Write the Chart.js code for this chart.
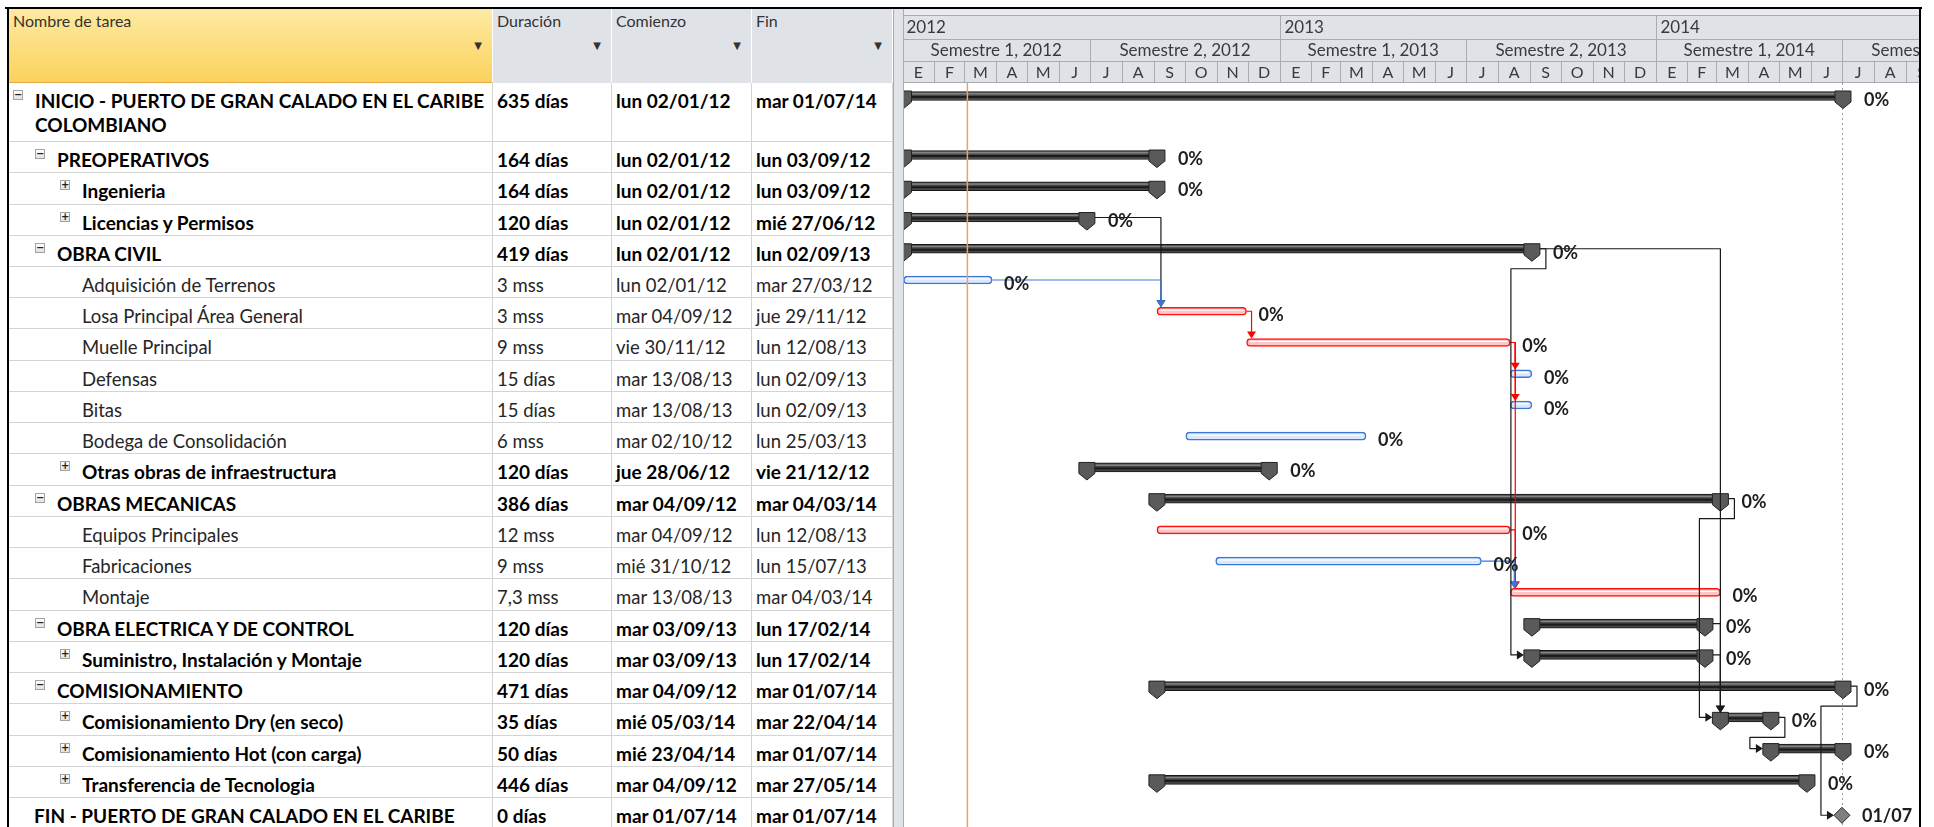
<!DOCTYPE html>
<html lang="es">
<head>
<meta charset="UTF-8" />
<title>Cronograma - Puerto de gran calado en el Caribe colombiano</title>
<script src="https://cdn.jsdelivr.net/npm/chart.js"></script>
<style>
  body { margin: 0; width: 1934px; height: 827px; overflow: hidden; background: #fff; position: relative; font-family: Lato, sans-serif; }
  .borde { position: absolute; background: #000; z-index: 5; }
  .cab { position: absolute; top: 9px; height: 74px; box-sizing: border-box; padding: 2px 4px; font-size: 16px; color: #333; border-right: 1px solid #fff; background: #dfe3e8; }
  .cab .flecha { position: absolute; right: 10px; top: 31px; font-size: 10px; font-family: "DejaVu Sans", sans-serif; color: #333; }
  .fila { position: absolute; left: 9px; width: 884px; box-sizing: border-box; border-bottom: 1px solid #d4d4d4; }
  .celda { position: absolute; top: 0; bottom: 0; box-sizing: border-box; border-right: 1px solid #d4d4d4; padding: 6px 2px 0 4px; line-height: 24px; font-size: 18.5px; color: #262626; overflow: hidden; }
  .negrita { font-weight: bold; color: #000; font-size: 19px; }
  .simbolo { position: absolute; top: 7px; width: 10px; height: 10px; box-sizing: border-box; border: 1px solid #a3a3a3; background: linear-gradient(#fff, #e2e2e2); font: bold 10px/8px "DejaVu Sans", sans-serif; text-align: center; color: #222; }
  #separador { position: absolute; left: 893px; top: 9px; width: 11px; height: 830px; box-sizing: border-box; background: #e0e3e8; border-left: 1px solid #a9adb3; border-right: 1px solid #a9adb3; }
  #gantt { position: absolute; left: 904px; top: 0; }
</style>
</head>
<body>
  <div class="borde" style="left:5px;top:7px;width:1917px;height:2px"></div>
  <div class="borde" style="left:7px;top:7px;width:2px;height:830px"></div>
  <div class="borde" style="left:1919px;top:7px;width:2px;height:830px"></div>

  <div class="cab" style="left:9px;width:484px;background:linear-gradient(#feeaa3,#fbd25c);border-bottom:1px solid #e3a94b">Nombre de tarea<span class="flecha">▼</span></div>
  <div class="cab" style="left:493px;width:119px">Duración<span class="flecha">▼</span></div>
  <div class="cab" style="left:612px;width:140px">Comienzo<span class="flecha">▼</span></div>
  <div class="cab" style="left:752px;width:141px">Fin<span class="flecha">▼</span></div>

  <div id="filas"></div>
  <div id="separador"></div>
  <canvas id="gantt" width="1015" height="827"></canvas>

<script>
  // ---- datos del cronograma ----
  const tareas = [
    "INICIO - PUERTO DE GRAN CALADO EN EL CARIBE COLOMBIANO",
    "PREOPERATIVOS",
    "Ingenieria",
    "Licencias y Permisos",
    "OBRA CIVIL",
    "Adquisición de Terrenos",
    "Losa Principal Área General",
    "Muelle Principal",
    "Defensas",
    "Bitas",
    "Bodega de Consolidación",
    "Otras obras de infraestructura",
    "OBRAS MECANICAS",
    "Equipos Principales",
    "Fabricaciones",
    "Montaje",
    "OBRA ELECTRICA Y DE CONTROL",
    "Suministro, Instalación y Montaje",
    "COMISIONAMIENTO",
    "Comisionamiento Dry (en seco)",
    "Comisionamiento Hot (con carga)",
    "Transferencia de Tecnologia",
    "FIN - PUERTO DE GRAN CALADO EN EL CARIBE COLOMBIANO"
  ];
  const duraciones = ["635 días", "164 días", "164 días", "120 días", "419 días", "3 mss", "3 mss", "9 mss",
    "15 días", "15 días", "6 mss", "120 días", "386 días", "12 mss", "9 mss", "7,3 mss", "120 días",
    "120 días", "471 días", "35 días", "50 días", "446 días", "0 días"];
  const comienzos = ["lun 02/01/12", "lun 02/01/12", "lun 02/01/12", "lun 02/01/12", "lun 02/01/12",
    "lun 02/01/12", "mar 04/09/12", "vie 30/11/12", "mar 13/08/13", "mar 13/08/13", "mar 02/10/12",
    "jue 28/06/12", "mar 04/09/12", "mar 04/09/12", "mié 31/10/12", "mar 13/08/13", "mar 03/09/13",
    "mar 03/09/13", "mar 04/09/12", "mié 05/03/14", "mié 23/04/14", "mar 04/09/12", "mar 01/07/14"];
  const fines = ["mar 01/07/14", "lun 03/09/12", "lun 03/09/12", "mié 27/06/12", "lun 02/09/13",
    "mar 27/03/12", "jue 29/11/12", "lun 12/08/13", "lun 02/09/13", "lun 02/09/13", "lun 25/03/13",
    "vie 21/12/12", "mar 04/03/14", "lun 12/08/13", "lun 15/07/13", "mar 04/03/14", "lun 17/02/14",
    "lun 17/02/14", "mar 01/07/14", "mar 22/04/14", "mar 01/07/14", "mar 27/05/14", "mar 01/07/14"];
  const tipos = ["resumen", "resumen", "resumen", "resumen", "resumen", "tarea", "critica", "critica",
    "tarea", "tarea", "tarea", "resumen", "resumen", "critica", "tarea", "critica", "resumen",
    "resumen", "resumen", "resumen", "resumen", "resumen", "hito"];
  const niveles = [0, 1, 2, 2, 1, 2, 2, 2, 2, 2, 2, 2, 1, 2, 2, 2, 1, 2, 1, 2, 2, 2, 0];
  const simbolos = ["-", "-", "+", "+", "-", "", "", "", "", "", "", "+", "-", "", "", "", "-", "+", "-", "+", "+", "+", ""];
  const etiquetas = ["0%", "0%", "0%", "0%", "0%", "0%", "0%", "0%", "0%", "0%", "0%", "0%", "0%",
    "0%", "0%", "0%", "0%", "0%", "0%", "0%", "0%", "0%", "01/07"];
  // predecesora -> sucesora (fin a comienzo)
  const vinculos = [[3, 6], [5, 6], [6, 7], [7, 8], [7, 9], [7, 15], [13, 15], [14, 15],
    [4, 17], [4, 19], [12, 19], [16, 19], [17, 19], [19, 20], [18, 22]];
  const anios = ["2012", "2013", "2014", "2015"];
  const semestres = ["Semestre 1, 2012", "Semestre 2, 2012", "Semestre 1, 2013", "Semestre 2, 2013",
    "Semestre 1, 2014", "Semestre 2, 2014"];
  const meses = ["E", "F", "M", "A", "M", "J", "J", "A", "S", "O", "N", "D"];
  const fechaActual = "dom 04/03/12";

  // ---- medidas de la vista ----
  const ALTO = 31.24;        // alto de una fila
  const PRIMERA = 1.89;      // la primera fila ocupa dos lineas
  const Y0 = 83;             // fin del encabezado
  const EJE_MIN = 1.46, EJE_MAX = 986.8;   // dias desde 01/01/2012
  const GROSOR = 8, GROSOR_RESUMEN = 9;

  const ORIGEN = Date.UTC(2012, 0, 1);
  function dia(texto) {
    const [d, m, a] = texto.split(" ").pop().split("/").map(Number);
    return (Date.UTC(2000 + a, m - 1, d) - ORIGEN) / 86400000;
  }
  function diaDe(a, m) { return (Date.UTC(a, m, 1) - ORIGEN) / 86400000; }
  function inicioFila(i) { return i === 0 ? 0 : PRIMERA + (i - 1); }

  // ---- tabla izquierda ----
  const sangria = [26, 48, 73];
  const contenedor = document.getElementById("filas");
  tareas.forEach((t, i) => {
    const fila = document.createElement("div");
    fila.className = "fila";
    fila.style.top = (Y0 + inicioFila(i) * ALTO) + "px";
    fila.style.height = ((i === 0 || i === tareas.length - 1 ? PRIMERA : 1) * ALTO) + "px";
    const neg = (tipos[i] === "resumen" || tipos[i] === "hito") ? " negrita" : "";
    const pad = i === tareas.length - 1 ? 25 : sangria[niveles[i]];
    let simb = "";
    if (simbolos[i]) simb = `<span class="simbolo" style="left:${pad - 22}px">${simbolos[i] === "-" ? "−" : "+"}</span>`;
    fila.innerHTML = `
      <div class="celda${neg}" style="left:0;width:484px;padding-left:${pad}px">${simb}${t}</div>
      <div class="celda${neg}" style="left:484px;width:119px">${duraciones[i]}</div>
      <div class="celda${neg}" style="left:603px;width:140px">${comienzos[i]}</div>
      <div class="celda${neg}" style="left:743px;width:141px">${fines[i]}</div>`;
    contenedor.appendChild(fila);
  });

  // ---- conjuntos para Chart.js ----
  const conjuntos = { resumen: [], critica: [], tarea: [], hito: [] };
  const ubicacion = [];
  tareas.forEach((t, i) => {
    const lista = conjuntos[tipos[i]];
    if (tipos[i] === "hito") lista.push({ x: dia(comienzos[i]), y: inicioFila(i) + 0.55 });
    else lista.push({ x: [dia(comienzos[i]), dia(fines[i]) + 1], y: inicioFila(i) + 0.416 });
    ubicacion.push({ ds: ["resumen", "critica", "tarea", "hito"].indexOf(tipos[i]), idx: lista.length - 1 });
  });

  function geometria(chart, i) {
    const el = chart.getDatasetMeta(ubicacion[i].ds).data[ubicacion[i].idx];
    if (tipos[i] === "hito") return { left: el.x, right: el.x, y: el.y, top: el.y - 8, hito: true };
    const resumen = tipos[i] === "resumen";
    const g = resumen ? GROSOR_RESUMEN : GROSOR;
    return {
      left: Math.min(el.x, el.base), right: Math.max(el.x, el.base), y: el.y,
      top: el.y - g / 2, bottom: el.y + g / 2, resumen: resumen
    };
  }

  const colorVinculo = { resumen: "#1a1a1a", critica: "#ff0000", tarea: "#3a78d8" };

  function flecha(ctx, x, y, dir) {
    ctx.beginPath();
    if (dir === "abajo") { ctx.moveTo(x - 4.5, y - 7); ctx.lineTo(x + 4.5, y - 7); ctx.lineTo(x, y); }
    else { ctx.moveTo(x - 7, y - 4.5); ctx.lineTo(x - 7, y + 4.5); ctx.lineTo(x, y); }
    ctx.closePath();
    ctx.fill();
  }

  function capuchon(ctx, x, top, bottom) {
    ctx.beginPath();
    ctx.moveTo(x - 8, top - 0.5);
    ctx.lineTo(x + 8, top - 0.5);
    ctx.lineTo(x + 8, bottom + 1.5);
    ctx.lineTo(x, bottom + 8);
    ctx.lineTo(x - 8, bottom + 1.5);
    ctx.closePath();
    ctx.fillStyle = "#5a5a5a";
    ctx.fill();
    ctx.strokeStyle = "#222";
    ctx.lineWidth = 1;
    ctx.stroke();
  }

  const dibujoGantt = {
    id: "dibujoGantt",
    beforeDatasetsDraw(chart) {
      const ctx = chart.ctx, xs = chart.scales.x;
      const L = chart.chartArea.left, R = chart.chartArea.right;
      ctx.save();
      // encabezado de escala temporal
      ctx.fillStyle = "#e8eaee"; ctx.fillRect(L, 9, R - L, 6);
      ctx.fillStyle = "#dfe2e7"; ctx.fillRect(L, 15, R - L, 68);
      ctx.strokeStyle = "#a9adb3"; ctx.lineWidth = 1;
      [15.5, 39.5, 61.5, 82.5].forEach(y => { ctx.beginPath(); ctx.moveTo(L, y); ctx.lineTo(R, y); ctx.stroke(); });
      ctx.fillStyle = "#3a3a3a"; ctx.textBaseline = "middle";
      ctx.font = "17px Lato";
      anios.forEach(a => {
        const x0 = Math.round(xs.getPixelForValue(diaDe(+a, 0))) + 0.5;
        ctx.beginPath(); ctx.moveTo(x0, 15); ctx.lineTo(x0, 39); ctx.stroke();
        ctx.textAlign = "left"; ctx.fillText(a, x0 + 4, 28);
      });
      semestres.forEach((s, k) => {
        const a = 2012 + Math.floor(k / 2), m = (k % 2) * 6;
        const x0 = Math.round(xs.getPixelForValue(diaDe(a, m))) + 0.5;
        const x1 = xs.getPixelForValue(diaDe(a, m + 6));
        ctx.beginPath(); ctx.moveTo(x0, 39); ctx.lineTo(x0, 61); ctx.stroke();
        ctx.textAlign = "center"; ctx.fillText(s, (x0 + x1) / 2, 51);
      });
      ctx.font = "16px Lato";
      for (let k = 0; k < 36; k++) {
        const a = 2012 + Math.floor(k / 12), m = k % 12;
        const x0 = Math.round(xs.getPixelForValue(diaDe(a, m))) + 0.5;
        const x1 = xs.getPixelForValue(diaDe(a, m + 1));
        ctx.beginPath(); ctx.moveTo(x0, 61); ctx.lineTo(x0, 83); ctx.stroke();
        ctx.textAlign = "center"; ctx.fillText(meses[m], (x0 + x1) / 2, 73);
      }
      // linea punteada de fin del proyecto
      const xf = Math.round(xs.getPixelForValue(dia(fines[0]))) + 0.5;
      ctx.strokeStyle = "#9a9a9a"; ctx.setLineDash([2, 3]);
      ctx.beginPath(); ctx.moveTo(xf, 83); ctx.lineTo(xf, 830); ctx.stroke();
      ctx.restore();
    },
    afterDatasetsDraw(chart) {
      const ctx = chart.ctx, xs = chart.scales.x;
      ctx.save();
      // brillo de las barras
      tareas.forEach((t, i) => {
        if (tipos[i] === "hito") return;
        const g = geometria(chart, i);
        if (g.resumen) {
          ctx.fillStyle = "#858585";
          ctx.fillRect(g.left, g.top + 1.5, g.right - g.left, 1.5);
          ctx.fillStyle = "#1a1a1a";
          ctx.fillRect(g.left, g.y, g.right - g.left, 2);
        } else {
          ctx.fillStyle = "rgba(255,255,255,0.85)";
          ctx.fillRect(g.left + 3, g.top + 2.2, g.right - g.left - 6, 1.4);
        }
      });
      // capuchones de las barras de resumen
      tareas.forEach((t, i) => {
        if (tipos[i] !== "resumen") return;
        const g = geometria(chart, i);
        capuchon(ctx, g.left, g.top, g.bottom);
        capuchon(ctx, g.right, g.top, g.bottom);
      });
      // linea de fecha actual
      const xh = xs.getPixelForValue(dia(fechaActual));
      ctx.strokeStyle = "#f2a25f"; ctx.lineWidth = 1.5;
      ctx.beginPath(); ctx.moveTo(xh, 83); ctx.lineTo(xh, 830); ctx.stroke();
      // vinculos
      ctx.lineWidth = 1.2; ctx.lineJoin = "round";
      vinculos.forEach(([p, s]) => {
        const a = geometria(chart, p), b = geometria(chart, s);
        const color = colorVinculo[tipos[p]];
        ctx.strokeStyle = color; ctx.fillStyle = color;
        const salida = a.right + (a.resumen ? 8 : 0);
        const entrada = b.left - (b.resumen || b.hito ? 8 : 0);
        ctx.beginPath();
        if (entrada >= salida - 1) {
          const xv = (b.resumen || b.hito) ? b.left : Math.max(b.left + 4, salida + 5);
          ctx.moveTo(salida, a.y); ctx.lineTo(xv, a.y); ctx.lineTo(xv, b.top - 6);
          ctx.stroke();
          flecha(ctx, xv, b.top, "abajo");
        } else {
          const ym = a.y + 20, xl = entrada - 13;
          ctx.moveTo(salida, a.y); ctx.lineTo(salida + 6, a.y); ctx.lineTo(salida + 6, ym);
          ctx.lineTo(xl, ym); ctx.lineTo(xl, b.y); ctx.lineTo(entrada - 6, b.y);
          ctx.stroke();
          flecha(ctx, entrada, b.y, "derecha");
        }
      });
      // etiquetas de avance
      ctx.font = "bold 18px Lato"; ctx.fillStyle = "#1e1e1e";
      ctx.textAlign = "left"; ctx.textBaseline = "middle";
      tareas.forEach((t, i) => {
        const g = geometria(chart, i);
        const dx = g.hito ? 20 : (g.resumen ? 21 : 12);
        ctx.fillText(etiquetas[i], g.right + dx, g.y + (g.hito ? 1 : 4));
      });
      ctx.restore();
    }
  };

  new Chart(document.getElementById("gantt"), {
    type: "bar",
    data: {
      datasets: [
        { label: "Resumen", data: conjuntos.resumen, backgroundColor: "#474747", borderColor: "#161616",
          borderWidth: 1, borderSkipped: false, barThickness: GROSOR_RESUMEN, grouped: false },
        { label: "Tarea crítica", data: conjuntos.critica, backgroundColor: "#ffc4c4", borderColor: "#ff1010",
          borderWidth: 1.5, borderRadius: 4, borderSkipped: false, barThickness: GROSOR, grouped: false },
        { label: "Tarea", data: conjuntos.tarea, backgroundColor: "#dbe7fa", borderColor: "#3a78d8",
          borderWidth: 1.5, borderRadius: 4, borderSkipped: false, barThickness: GROSOR, grouped: false },
        { type: "scatter", label: "Hito", data: conjuntos.hito, pointStyle: "rectRot", pointRadius: 8,
          backgroundColor: "#808080", borderColor: "#2a2a2a", borderWidth: 1 }
      ]
    },
    options: {
      responsive: false,
      animation: false,
      indexAxis: "y",
      events: [],
      layout: { autoPadding: false, padding: { top: Y0, left: 0, right: 0, bottom: 0 } },
      scales: {
        x: { type: "linear", min: EJE_MIN, max: EJE_MAX, display: false, offset: false, grace: 0 },
        y: { type: "linear", min: 0, max: (827 - Y0) / ALTO, reverse: true, display: false, offset: false, grace: 0 }
      },
      plugins: { legend: { display: false }, tooltip: { enabled: false } }
    },
    plugins: [dibujoGantt]
  });
</script>
</body>
</html>
